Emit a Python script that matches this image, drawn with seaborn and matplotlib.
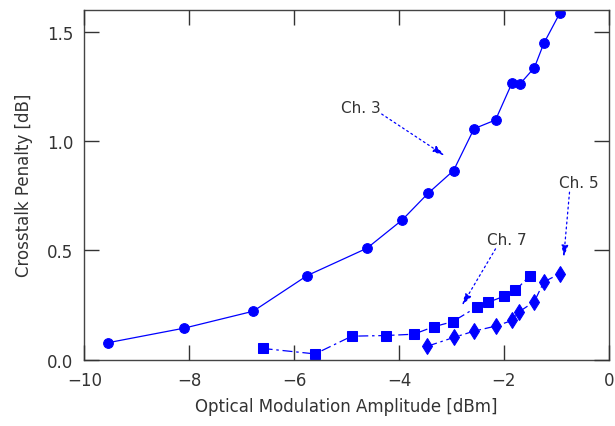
import matplotlib
matplotlib.use("Agg")
import matplotlib.pyplot as plt
import seaborn as sns
import pandas as pd

plt.rcParams['font.family'] = ['DejaVu Sans']

ch3_x = [-9.55, -8.09, -6.78, -5.75, -4.61, -3.94, -3.45, -2.96, -2.57, -2.16, -1.85, -1.70, -1.42, -1.24, -0.93]
ch3_y = [0.078, 0.145, 0.222, 0.385, 0.510, 0.639, 0.760, 0.865, 1.056, 1.096, 1.263, 1.259, 1.335, 1.446, 1.586]

ch7_x = [-6.60, -5.60, -4.90, -4.25, -3.72, -3.34, -2.98, -2.51, -2.31, -1.99, -1.78, -1.51]
ch7_y = [0.052, 0.027, 0.108, 0.111, 0.117, 0.151, 0.174, 0.242, 0.262, 0.291, 0.317, 0.384]

ch5_x = [-3.46, -2.96, -2.57, -2.16, -1.84, -1.72, -1.42, -1.24, -0.93]
ch5_y = [0.062, 0.102, 0.131, 0.154, 0.180, 0.218, 0.266, 0.356, 0.394]

x_ticks = [-10, -8, -6, -4, -2, 0]
y_ticks = [0.0, 0.5, 1.0, 1.5]
x_label = "Optical Modulation Amplitude [dBm]"
y_label = "Crosstalk Penalty [dB]"

blue = "#0000ff"
txt = "#333333"

fig = plt.figure(figsize=(6.15, 4.27), dpi=100)
ax = fig.add_axes([0.137, 0.155, 0.853, 0.82])

sns.lineplot(x=ch3_x, y=ch3_y, ax=ax, color=blue, marker="o", markersize=7,
             markeredgecolor=blue, linewidth=0.9, sort=False, estimator=None)
sns.lineplot(x=ch7_x, y=ch7_y, ax=ax, color=blue, marker="s", markersize=6.5,
             markeredgecolor=blue, linewidth=0.9, sort=False, estimator=None,
             linestyle=(0, (8, 3, 2, 3)))
sns.lineplot(x=ch5_x, y=ch5_y, ax=ax, color=blue, marker="d", markersize=8,
             markeredgecolor=blue, linewidth=0.9, sort=False, estimator=None,
             linestyle=(0, (8, 3, 2, 3)))

ax.set_xlim(-10, 0)
ax.set_ylim(0, 1.6)
ax.set_xticks(x_ticks)
ax.set_xticklabels([f"{v}".replace("-", "\u2212") for v in x_ticks])
ax.set_yticks(y_ticks)
ax.set_yticklabels([f"{v:.1f}" for v in y_ticks])
ax.tick_params(direction="in", length=0, width=0, labelsize=12,
               labelcolor=txt, pad=8)

# inward tick marks on all four sides (axes-fraction lengths)
tick_kw = dict(colors="#333333", linewidth=1, clip_on=False, zorder=3)
xt = ax.get_xaxis_transform()
yt = ax.get_yaxis_transform()
ax.vlines(x_ticks, 0, 0.043, transform=xt, **tick_kw)
ax.vlines(x_ticks, 1 - 0.043, 1, transform=xt, **tick_kw)
ax.hlines(y_ticks, 0, 0.029, transform=yt, **tick_kw)
ax.hlines(y_ticks, 1 - 0.029, 1, transform=yt, **tick_kw)

for s in ax.spines.values():
    s.set_color("#444444")
    s.set_linewidth(1)

ax.set_xlabel(x_label, fontsize=12, color=txt, labelpad=6)
ax.set_ylabel(y_label, fontsize=12, color=txt, labelpad=10)

arrow = dict(arrowstyle="-|>,head_length=0.7,head_width=0.2", color=blue,
             linestyle=(0, (1.5, 2.5)), linewidth=0.9, shrinkA=0, shrinkB=0)
ax.text(-4.72, 1.154, "Ch. 3", fontsize=11, color=txt, ha="center", va="center")
ax.annotate("", xy=(-3.13, 0.933), xytext=(-4.33, 1.123), arrowprops=arrow)
ax.text(-0.575, 0.811, "Ch. 5", fontsize=11, color=txt, ha="center", va="center")
ax.annotate("", xy=(-0.86, 0.469), xytext=(-0.75, 0.766), arrowprops=arrow)
ax.text(-1.94, 0.549, "Ch. 7", fontsize=11, color=txt, ha="center", va="center")
ax.annotate("", xy=(-2.80, 0.248), xytext=(-2.16, 0.507), arrowprops=arrow)

fig.savefig("out.png", dpi=100)
